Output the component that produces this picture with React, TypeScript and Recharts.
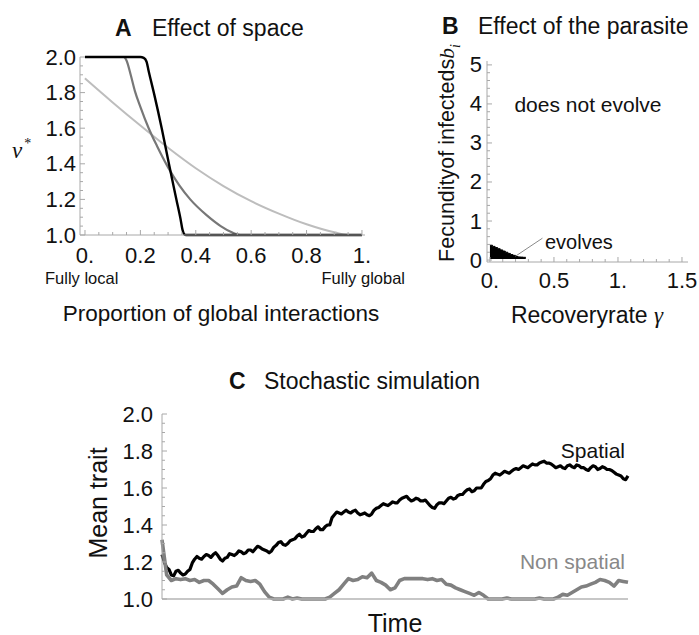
import React from 'react';
import { LineChart, Line, XAxis, YAxis, ComposedChart, Area, ReferenceLine } from 'recharts';

const SANS = "'Liberation Sans', Arial, Helvetica, sans-serif";
const SERIF = "'Liberation Serif', 'Times New Roman', serif";
const AXIS = '#a8a8a8';

// ---------- Panel A: Effect of space ----------
const blackX = [0, 0.2, 0.212, 0.222, 0.23, 0.25, 0.277, 0.303, 0.33, 0.345, 0.352, 0.358, 0.365, 1.0];
const blackY = [2.0, 2.0, 1.995, 1.975, 1.92, 1.79, 1.6, 1.4, 1.2, 1.09, 1.03, 1.005, 1.0, 1.0];
const midX = [0, 0.14, 0.15, 0.165, 0.18, 0.2, 0.23, 0.26, 0.3, 0.34, 0.38, 0.44, 0.49, 0.53, 0.56, 1.0];
const midY = [2.0, 2.0, 1.98, 1.9, 1.81, 1.72, 1.6, 1.5, 1.38, 1.28, 1.2, 1.11, 1.05, 1.015, 1.0, 1.0];
const lightX = [0, 0.1, 0.2, 0.3, 0.4, 0.5, 0.6, 0.7, 0.8, 0.9, 0.95, 1.0];
const lightY = [1.88, 1.745, 1.615, 1.49, 1.375, 1.275, 1.19, 1.12, 1.06, 1.015, 1.0, 1.0];

const A_X_MAJOR = [0, 0.2, 0.4, 0.6, 0.8, 1.0];
const A_X_LABELS = ['0.', '0.2', '0.4', '0.6', '0.8', '1.'];
const A_X_MINOR = [0.05, 0.1, 0.15, 0.25, 0.3, 0.35, 0.45, 0.5, 0.55, 0.65, 0.7, 0.75, 0.85, 0.9, 0.95];
const Y12_MAJOR = [1.0, 1.2, 1.4, 1.6, 1.8, 2.0];
const Y12_LABELS = ['1.0', '1.2', '1.4', '1.6', '1.8', '2.0'];
const Y12_MINOR = [1.05, 1.1, 1.15, 1.25, 1.3, 1.35, 1.45, 1.5, 1.55, 1.65, 1.7, 1.75, 1.85, 1.9, 1.95];

// ---------- Panel B: Effect of the parasite ----------
const B_GAMMA = [0, 0.02, 0.04, 0.06, 0.08, 0.1, 0.12, 0.14, 0.16, 0.18, 0.2, 0.22, 0.24, 0.26, 0.28];
const B_FECUNDITY = [0.38, 0.35, 0.32, 0.29, 0.26, 0.23, 0.2, 0.17, 0.14, 0.12, 0.09, 0.08, 0.075, 0.07, 0.07];
const B_X_MAJOR = [0, 0.5, 1.0, 1.5];
const B_X_LABELS = ['0.', '0.5', '1.', '1.5'];
const B_X_MINOR = [0.1, 0.2, 0.3, 0.4, 0.6, 0.7, 0.8, 0.9, 1.1, 1.2, 1.3, 1.4];
const B_Y_MAJOR = [0, 1, 2, 3, 4, 5];
const B_Y_LABELS = ['0', '1', '2', '3', '4', '5'];
const B_Y_MINOR = [0.2, 0.4, 0.6, 0.8, 1.2, 1.4, 1.6, 1.8, 2.2, 2.4, 2.6, 2.8, 3.2, 3.4, 3.6, 3.8, 4.2, 4.4, 4.6, 4.8];

// ---------- Panel C: Stochastic simulation ----------
// spatial: sampled every 0.5 time units (0..100)
const spatial = [
  1.24, 1.20, 1.17, 1.16, 1.13, 1.125, 1.15, 1.155, 1.14, 1.13,
  1.135, 1.15, 1.16, 1.195, 1.215, 1.23, 1.22, 1.215, 1.23, 1.24,
  1.235, 1.225, 1.24, 1.25, 1.235, 1.215, 1.205, 1.22, 1.225, 1.245,
  1.24, 1.235, 1.245, 1.26, 1.255, 1.245, 1.25, 1.265, 1.265, 1.255,
  1.27, 1.285, 1.28, 1.27, 1.265, 1.26, 1.25, 1.26, 1.28, 1.29,
  1.305, 1.31, 1.295, 1.29, 1.30, 1.315, 1.32, 1.325, 1.34, 1.35,
  1.335, 1.34, 1.355, 1.37, 1.365, 1.365, 1.38, 1.39, 1.375, 1.375,
  1.39, 1.40, 1.40, 1.44, 1.455, 1.47, 1.465, 1.46, 1.47, 1.48,
  1.47, 1.465, 1.475, 1.48, 1.465, 1.455, 1.46, 1.465, 1.455, 1.45,
  1.46, 1.48, 1.49, 1.495, 1.505, 1.515, 1.51, 1.505, 1.515, 1.525,
  1.52, 1.52, 1.535, 1.545, 1.55, 1.555, 1.54, 1.53, 1.535, 1.545,
  1.54, 1.53, 1.53, 1.535, 1.52, 1.505, 1.495, 1.49, 1.51, 1.52,
  1.52, 1.515, 1.53, 1.545, 1.55, 1.54, 1.545, 1.56, 1.565, 1.565,
  1.58, 1.59, 1.595, 1.58, 1.585, 1.60, 1.60, 1.60, 1.62, 1.635,
  1.64, 1.65, 1.67, 1.68, 1.675, 1.67, 1.68, 1.69, 1.685, 1.68,
  1.69, 1.70, 1.705, 1.70, 1.71, 1.72, 1.715, 1.71, 1.72, 1.73,
  1.725, 1.725, 1.735, 1.74, 1.745, 1.735, 1.735, 1.73, 1.72, 1.71,
  1.715, 1.72, 1.71, 1.705, 1.72, 1.725, 1.715, 1.71, 1.725, 1.72,
  1.71, 1.71, 1.70, 1.695, 1.71, 1.72, 1.715, 1.70, 1.705, 1.715,
  1.71, 1.70, 1.70, 1.695, 1.685, 1.675, 1.67, 1.665, 1.65, 1.645,
  1.665,
];
// non spatial: sampled every 1 time unit (0..100)
const nonSpatial = [
  1.32, 1.13, 1.1, 1.11, 1.105, 1.11, 1.1, 1.105, 1.09, 1.1,
  1.1, 1.08, 1.055, 1.03, 1.05, 1.065, 1.07, 1.115, 1.1, 1.095,
  1.1, 1.08, 1.04, 1.01, 1.0, 1.0, 1.0, 1.01, 1.0, 1.005,
  1.0, 1.0, 1.0, 1.0, 1.0, 1.0, 1.01, 1.03, 1.05, 1.08,
  1.11, 1.1, 1.105, 1.12, 1.115, 1.14, 1.1, 1.09, 1.075, 1.05,
  1.06, 1.1, 1.11, 1.11, 1.11, 1.11, 1.11, 1.105, 1.11, 1.1,
  1.105, 1.08, 1.075, 1.06, 1.05, 1.04, 1.03, 1.02, 1.035, 1.02,
  1.0, 1.0, 1.0, 1.0, 1.005, 1.0, 1.0, 1.0, 1.0, 1.0,
  1.0, 1.005, 1.0, 1.0, 1.0, 1.01, 1.025, 1.02, 1.035, 1.05,
  1.065, 1.07, 1.08, 1.09, 1.105, 1.1, 1.09, 1.07, 1.1, 1.095, 1.09,
];

const curveBlack = blackX.map((x, i) => ({ x, y: blackY[i] }));
const curveMid = midX.map((x, i) => ({ x, y: midY[i] }));
const curveLight = lightX.map((x, i) => ({ x, y: lightY[i] }));
const bData = B_GAMMA.map((g, i) => ({ g, b: B_FECUNDITY[i] }));
const spatialData = spatial.map((v, i) => ({ t: i / 2, v }));
const nonSpatialData = nonSpatial.map((v, i) => ({ t: i, v }));

const sortNum = (a: number[]) => [...a].sort((p, q) => p - q);
const idx = (arr: number[], v: number) => arr.findIndex((m) => Math.abs(m - v) < 1e-9);

function xTick(majors: number[], labels: string[], side: 'bottom' | 'top', labelDy: number, show: boolean) {
  return (props: any) => {
    const { x, y, payload } = props;
    const i = idx(majors, payload.value);
    const len = i >= 0 ? 5 : 3;
    const dir = side === 'bottom' ? -1 : 1;
    return (
      <g>
        <line x1={x} x2={x} y1={y} y2={y + dir * len} stroke={AXIS} strokeWidth={1} />
        {show && i >= 0 ? (
          <text x={x} y={y + labelDy} textAnchor="middle" dominantBaseline="central" fontFamily={SANS} fontSize={22} fill="#111">
            {labels[i]}
          </text>
        ) : null}
      </g>
    );
  };
}

function yTick(majors: number[], labels: string[], side: 'left' | 'right', gap: number, show: boolean) {
  return (props: any) => {
    const { x, y, payload } = props;
    const i = idx(majors, payload.value);
    const len = i >= 0 ? 5 : 3;
    const dir = side === 'left' ? 1 : -1;
    return (
      <g>
        <line x1={x} x2={x + dir * len} y1={y} y2={y} stroke={AXIS} strokeWidth={1} />
        {show && i >= 0 ? (
          <text x={x - gap} y={y} textAnchor="end" dominantBaseline="central" fontFamily={SANS} fontSize={22} fill="#111">
            {labels[i]}
          </text>
        ) : null}
      </g>
    );
  };
}

type TP = {
  x: number; y: number; size: number; children: React.ReactNode;
  anchor?: 'start' | 'middle' | 'end'; weight?: number; color?: string; family?: string; rotate?: number; italic?: boolean;
};
const T = ({ x, y, size, children, anchor = 'start', weight = 400, color = '#111', family = SANS, rotate = 0, italic = false }: TP) => {
  const tx = anchor === 'start' ? '0' : anchor === 'middle' ? '-50%' : '-100%';
  return (
    <div
      style={{
        position: 'absolute', left: x, top: y, whiteSpace: 'nowrap', lineHeight: 1,
        fontSize: size, fontWeight: weight, color, fontFamily: family, fontStyle: italic ? 'italic' : 'normal',
        transform: `translate(${tx}, -50%)${rotate ? ` rotate(${rotate}deg)` : ''}`,
      }}
    >
      {children}
    </div>
  );
};

export default function App() {
  const axisCommon = { interval: 0 as const, tickSize: 0, tickMargin: 0, tickLine: false, axisLine: { stroke: AXIS, strokeWidth: 1 } };
  return (
    <div style={{ position: 'absolute', left: 0, top: 0, width: 699, height: 635, background: '#fff', overflow: 'hidden' }}>
      {/* Panel A */}
      <div style={{ position: 'absolute', left: 0, top: 0 }}>
        <LineChart width={400} height={300} margin={{ top: 57, right: 35, bottom: 35, left: 0 }}>
          <XAxis
            type="number" dataKey="x" domain={[-0.018, 1.011]} height={30}
            ticks={sortNum([...A_X_MAJOR, ...A_X_MINOR])}
            tick={xTick(A_X_MAJOR, A_X_LABELS, 'bottom', 20, true)}
            {...axisCommon}
          />
          <YAxis
            type="number" domain={[1, 2]} width={80}
            ticks={sortNum([...Y12_MAJOR, ...Y12_MINOR])}
            tick={yTick(Y12_MAJOR, Y12_LABELS, 'left', 4, true)}
            {...axisCommon}
          />
          <Line data={curveLight} dataKey="y" type="monotone" stroke="#bdbdbd" strokeWidth={2} dot={false} isAnimationActive={false} />
          <Line data={curveMid} dataKey="y" type="monotone" stroke="#777777" strokeWidth={2.2} dot={false} isAnimationActive={false} />
          <Line data={curveBlack} dataKey="y" type="monotone" stroke="#000000" strokeWidth={2.4} dot={false} isAnimationActive={false} />
        </LineChart>
      </div>

      {/* Panel B */}
      <div style={{ position: 'absolute', left: 400, top: 0 }}>
        <ComposedChart width={299} height={300} data={bData} margin={{ top: 61, right: 11, bottom: 8, left: 0 }}>
          <XAxis
            type="number" dataKey="g" domain={[-0.023, 1.547]} height={30}
            ticks={sortNum([...B_X_MAJOR, ...B_X_MINOR])}
            tick={xTick(B_X_MAJOR, B_X_LABELS, 'bottom', 18, true)}
            {...axisCommon}
          />
          <XAxis
            xAxisId="top" orientation="top" type="number" dataKey="g" domain={[-0.023, 1.547]} height={0}
            ticks={sortNum([...B_X_MAJOR, ...B_X_MINOR])}
            tick={xTick(B_X_MAJOR, B_X_LABELS, 'top', 0, false)}
            {...axisCommon}
          />
          <YAxis
            type="number" domain={[-0.05, 5.1]} width={87}
            ticks={sortNum([...B_Y_MAJOR, ...B_Y_MINOR])}
            tick={yTick(B_Y_MAJOR, B_Y_LABELS, 'left', 5, true)}
            {...axisCommon}
          />
          <YAxis
            yAxisId="right" orientation="right" type="number" domain={[-0.05, 5.1]} width={0}
            ticks={sortNum([...B_Y_MAJOR, ...B_Y_MINOR])}
            tick={yTick(B_Y_MAJOR, B_Y_LABELS, 'right', 0, false)}
            {...axisCommon}
          />
          <Area
            dataKey="b" type="stepAfter" baseValue={0.03} stroke="#000" strokeWidth={1} fill="#000" fillOpacity={1}
            dot={false} activeDot={false} isAnimationActive={false}
          />
          <Line xAxisId="top" yAxisId="right" dataKey="b" stroke="none" dot={false} activeDot={false} isAnimationActive={false} legendType="none" />
          <ReferenceLine segment={[{ x: 0.2, y: 0.1 }, { x: 0.41, y: 0.56 }]} stroke="#8a8a8a" strokeWidth={1} />
        </ComposedChart>
      </div>

      {/* Panel C */}
      <div style={{ position: 'absolute', left: 0, top: 400 }}>
        <LineChart width={660} height={220} margin={{ top: 14, right: 32, bottom: 1, left: 0 }}>
          <XAxis type="number" dataKey="t" domain={[0, 100]} height={20} tick={false} tickLine={false} axisLine={{ stroke: '#b5b5b5', strokeWidth: 1.5 }} />
          <YAxis
            type="number" domain={[1, 2]} width={162}
            ticks={sortNum([...Y12_MAJOR, ...Y12_MINOR])}
            tick={yTick(Y12_MAJOR, Y12_LABELS, 'left', 9, true)}
            {...axisCommon}
          />
          <Line data={spatialData} dataKey="v" type="linear" stroke="#000" strokeWidth={3.2} strokeLinejoin="round" dot={false} isAnimationActive={false} />
          <Line data={nonSpatialData} dataKey="v" type="linear" stroke="#808080" strokeWidth={3.6} strokeLinejoin="round" dot={false} isAnimationActive={false} />
        </LineChart>
      </div>

      {/* Text: Panel A */}
      <T x={115} y={28} size={23} weight={700}>A</T>
      <T x={152} y={28} size={23}>Effect of space</T>
      <T x={12} y={150} size={23} family={SERIF} italic>
        ν<sup style={{ fontSize: 14, fontStyle: 'normal', verticalAlign: 'top', position: 'relative', top: -2, marginLeft: 2 }}>*</sup>
      </T>
      <T x={45} y={278} size={16.5}>Fully local</T>
      <T x={405} y={278} size={16.5} anchor="end">Fully global</T>
      <T x={221} y={314} size={22.5} anchor="middle">Proportion of global interactions</T>

      {/* Text: Panel B */}
      <T x={442} y={26} size={23} weight={700}>B</T>
      <T x={478} y={26} size={23}>Effect of the parasite</T>
      <T x={450} y={153} size={21.5} anchor="middle" rotate={-90}>
        Fecundityof infecteds<span style={{ fontFamily: SERIF, fontStyle: 'italic' }}>b</span>
        <sub style={{ fontFamily: SERIF, fontStyle: 'italic', fontSize: 14 }}>i</sub>
      </T>
      <T x={587} y={315} size={23} anchor="middle">
        Recoveryrate <span style={{ fontFamily: SERIF, fontStyle: 'italic' }}>γ</span>
      </T>
      <T x={588} y={104} size={21} anchor="middle">does not evolve</T>
      <T x={545} y={242} size={20}>evolves</T>

      {/* Text: Panel C */}
      <T x={229} y={381} size={23} weight={700}>C</T>
      <T x={264} y={381} size={23}>Stochastic simulation</T>
      <T x={98} y={503} size={25} anchor="middle" rotate={-90}>Mean trait</T>
      <T x={395} y={623} size={25} anchor="middle">Time</T>
      <T x={625} y={450} size={21} anchor="end">Spatial</T>
      <T x={625} y={561} size={21} anchor="end" color="#888">Non spatial</T>
    </div>
  );
}
